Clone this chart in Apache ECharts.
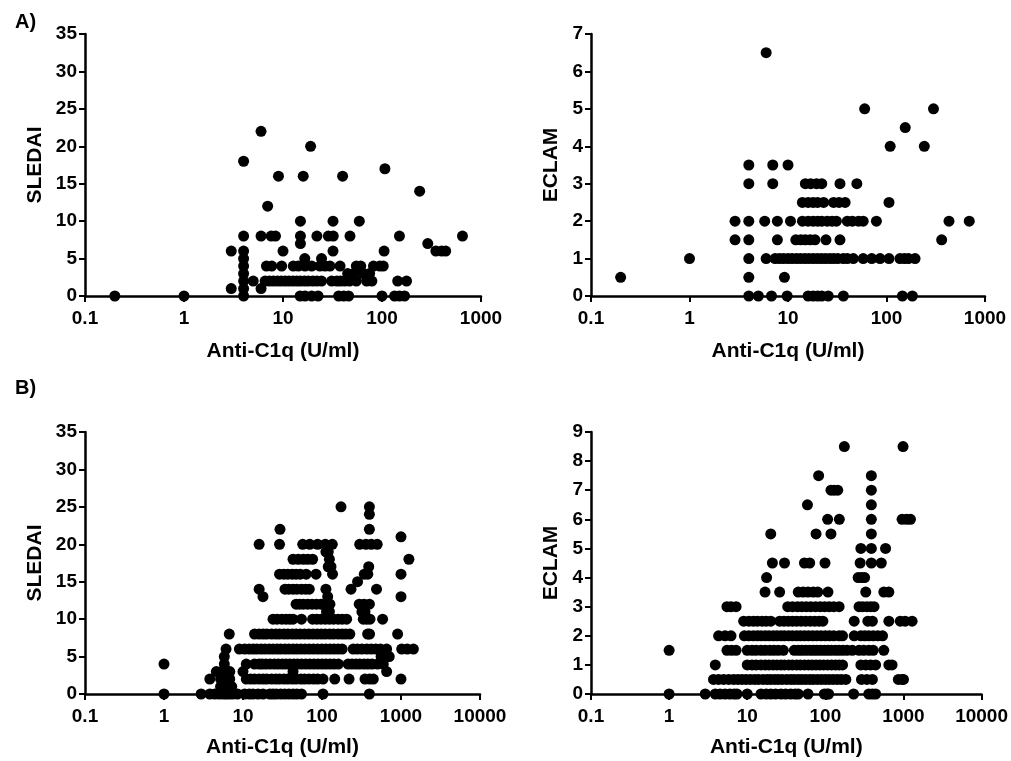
<!DOCTYPE html>
<html>
<head>
<meta charset="utf-8">
<script src="https://cdn.jsdelivr.net/npm/echarts@6/dist/echarts.min.js"></script>
<style>
  html, body { margin: 0; padding: 0; background: #fff; }
  #chart { width: 1011px; height: 761px; }
</style>
</head>
<body>
<div id="chart"></div>
<script>
// Each row: [score, [anti-C1q values (U/ml) of the patients with that score]]
const sledaiA = [
  [0,  [0.2, 1, 4, 14.9, 16.7, 19.5, 22.6, 36.5, 41, 46, 100, 134, 150, 169]],
  [1,  [3, 4, 6]],
  [2,  [4, 5, 6.6, 7.3, 8, 8.8, 9.6, 10.5, 11.5, 12.6, 13.8, 15, 16.5, 18, 20, 22, 24.5, 31, 35, 38, 42, 47, 55, 70, 79, 144, 177]],
  [3,  [4, 45, 52, 65, 75]],
  [4,  [4, 6.8, 7.7, 9.7, 12.7, 14.3, 16.7, 19.5, 23.6, 26.6, 29.8, 37.7, 55, 61, 82, 95, 103]],
  [5,  [4, 16.6, 24.5]],
  [6,  [3, 4, 10, 32, 105, 350, 400, 440]],
  [7,  [15, 290]],
  [8,  [4, 6, 7.6, 8.4, 15, 22, 28.7, 32.2, 47.5, 150, 650]],
  [10, [15, 32, 59]],
  [12, [7]],
  [14, [240]],
  [16, [9, 16, 40]],
  [17, [107]],
  [18, [4]],
  [20, [19]],
  [22, [6]]
];

const eclamA = [
  [0,   [4, 5, 6.8, 9.8, 16, 18, 20, 22, 25.6, 36.5, 145, 183]],
  [0.5, [0.2, 4, 9.2]],
  [1,   [1, 4, 6, 7.4, 8.2, 9, 10, 11, 12.2, 13.4, 14.8, 16.3, 18, 19.8, 21.8, 24, 26.5, 29, 32, 36.4, 40, 46, 58, 70.8, 86, 106, 137, 152, 167, 195]],
  [1.5, [2.9, 4, 7.8, 12, 13.5, 15, 16.8, 18.8, 24.3, 33.7, 363]],
  [2,   [2.9, 4, 5.8, 7.8, 10.6, 14, 16, 18, 20, 22, 25, 28, 31, 40, 45, 52, 58, 79, 431, 692]],
  [2.5, [14, 16, 18, 20, 23, 29, 33, 38, 106]],
  [3,   [4, 7, 15, 17, 19.5, 22, 33.7, 50]],
  [3.5, [4, 7, 10]],
  [4,   [109, 242]],
  [4.5, [155]],
  [5,   [60, 300]],
  [6.5, [6]]
];

const sledaiB = [
  [0,  [1, 2.95, 3.8, 4.4, 5, 5.6, 6.1, 6.7, 7.4, 8.5, 10.5, 12, 13.4, 15.5, 17.9, 21.8, 24, 26.4, 30, 33.7, 38, 43, 48, 55, 103, 398]],
  [1,  [5.2, 5.8, 6.4, 7.2]],
  [2,  [3.8, 5.2, 6, 6.8, 11, 12.5, 14, 16, 18, 20, 23, 26, 29, 33, 37, 42, 47, 54, 60, 68, 78, 88, 103, 145, 220, 350, 400, 446, 1000]],
  [3,  [4.6, 5.4, 6, 6.8, 10, 43, 658]],
  [4,  [1, 5.8, 11, 14, 16, 17.5, 19.5, 22, 25, 28, 31.5, 35, 39, 44, 49, 55, 62, 70, 79, 89, 100, 112, 126, 142, 161, 214, 240, 270, 300, 340, 380, 430, 506, 597]],
  [5,  [5.8, 560, 640, 710]],
  [6,  [6.1, 9, 10.5, 12, 13.5, 15, 17, 19, 21.5, 24, 27, 30, 34, 38, 43, 48, 54, 61, 69, 78, 88, 99, 112, 126, 142, 160, 180, 248, 280, 320, 370, 420, 480, 550, 658, 1020, 1200, 1435]],
  [8,  [6.7, 14, 16, 18, 20, 23, 26, 29, 33, 37, 42, 47, 53, 60, 68, 77, 87, 98, 110, 125, 140, 160, 180, 200, 225, 378, 400, 906]],
  [10, [24, 27, 31, 35, 39, 43, 55, 76, 86, 97, 110, 124, 140, 160, 180, 205, 333, 368, 405, 585]],
  [11, [114, 124, 320, 350]],
  [12, [47, 52, 58, 66, 75, 85, 97, 118, 126, 296, 340, 398]],
  [13, [17.9, 118, 1000]],
  [14, [16, 34, 38, 43, 48, 55, 62, 69, 112, 233, 490]],
  [15, [282]],
  [16, [29, 33, 37, 42, 47, 53, 63, 84, 136, 343, 380, 1000]],
  [17, [120, 130, 390]],
  [18, [43, 50, 58, 66, 76, 124, 1260]],
  [19, [112, 120]],
  [20, [16, 29, 57, 70, 88, 110, 135, 300, 360, 420, 500]],
  [21, [1000]],
  [22, [29.4, 398]],
  [24, [398]],
  [25, [174, 398]]
];

const eclamB = [
  [0,   [1, 2.9, 3.9, 4.5, 5.2, 6, 6.8, 7.4, 10, 15, 17.5, 20, 23, 27, 31, 36, 41, 45, 60, 97, 105, 110, 230, 360, 400, 440]],
  [0.5, [3.7, 4.3, 5, 5.8, 6.7, 7.6, 8.6, 9.7, 11, 12.5, 14, 16, 18, 20, 22.5, 25, 28, 32, 36, 40, 45, 50, 56, 63, 70, 79, 89, 100, 112, 126, 142, 160, 183, 290, 340, 400, 860, 960, 1000]],
  [1,   [3.9, 10, 11.5, 13, 15, 17, 19, 21.5, 24, 27, 30, 34, 38, 43, 48, 54, 61, 68, 76, 85, 95, 107, 120, 135, 150, 166, 285, 330, 380, 440, 650, 715]],
  [1.5, [1, 5.5, 6.3, 7.2, 10, 11.5, 13, 15, 17, 19.5, 22, 25, 29, 40, 45, 50, 56, 63, 70, 78, 87, 97, 108, 120, 135, 150, 168, 190, 221, 270, 310, 360, 410, 560]],
  [2,   [4.3, 5.2, 6.2, 9.2, 10.5, 12, 13.5, 15, 17, 19, 21.5, 24, 27, 30, 34, 38, 43, 48, 54, 61, 69, 78, 88, 100, 113, 128, 150, 166, 234, 285, 320, 360, 410, 470, 540]],
  [2.5, [9, 10.5, 12, 13.5, 15.5, 17.5, 20, 26, 29.5, 33.5, 38, 43, 49, 56, 64, 73, 83, 93, 234, 350, 400, 650, 910, 1050, 1290]],
  [3,   [5.5, 6.2, 7.2, 33, 38, 44, 50, 57, 65, 75, 86, 98, 112, 128, 150, 270, 300, 340, 380, 420]],
  [3.5, [16.9, 26, 45, 52, 60, 70, 80, 108, 329, 560, 650]],
  [4,   [17.7, 263, 290, 318]],
  [4.5, [21, 30, 54, 63, 99, 279, 388, 520]],
  [5,   [285, 388, 590]],
  [5.5, [20, 76, 118, 388]],
  [6,   [107, 151, 388, 960, 1100, 1230]],
  [6.5, [59, 388]],
  [7,   [118, 130, 144, 388]],
  [7.5, [82, 388]],
  [8.5, [175, 988]]
];

const xTickLabelsA = ['0.1', '1', '10', '100', '1000'];
const xTickLabelsB = ['0.1', '1', '10', '100', '1000', '10000'];
const xTitle = 'Anti-C1q (U/ml)';

const FONT = '"Liberation Sans", Arial, Helvetica, sans-serif';

function toPoints(rows) {
  const pts = [];
  rows.forEach(([score, xs]) => xs.forEach(x => pts.push([x, score])));
  return pts;
}

const panels = [
  { grid: { left: 85,  top: 34,  width: 396, height: 262 }, xMax: 1000,  ticks: xTickLabelsA, yMax: 35, yStep: 5, yName: 'SLEDAI', yGap: 39, xGap: 45, rows: sledaiA },
  { grid: { left: 591, top: 34,  width: 394, height: 262 }, xMax: 1000,  ticks: xTickLabelsA, yMax: 7,  yStep: 1, yName: 'ECLAM',  yGap: 29, xGap: 45, rows: eclamA },
  { grid: { left: 85,  top: 432, width: 395, height: 262 }, xMax: 10000, ticks: xTickLabelsB, yMax: 35, yStep: 5, yName: 'SLEDAI', yGap: 39, xGap: 43, rows: sledaiB },
  { grid: { left: 591, top: 432, width: 394, height: 262 }, xMax: 10000, ticks: xTickLabelsB, yMax: 9,  yStep: 1, yName: 'ECLAM',  yGap: 29, xGap: 43, rows: eclamB }
];

const axisLine = { show: true, onZero: false, lineStyle: { color: '#000', width: 2.5 } };
const axisTick = { show: true, length: 6, lineStyle: { color: '#000', width: 2 } };
const labelStyle = { color: '#000', fontFamily: FONT, fontWeight: 'bold', fontSize: 19 };
const nameStyle = { color: '#000', fontFamily: FONT, fontWeight: 'bold', fontSize: 21 };

const option = {
  animation: false,
  backgroundColor: '#fff',
  title: [
    { text: 'A)', left: 10, top: 7,   textStyle: { color: '#000', fontFamily: FONT, fontWeight: 'bold', fontSize: 20 } },
    { text: 'B)', left: 10, top: 373, textStyle: { color: '#000', fontFamily: FONT, fontWeight: 'bold', fontSize: 20 } }
  ],
  grid: panels.map(p => p.grid),
  xAxis: panels.map((p, i) => ({
    type: 'log',
    logBase: 10,
    gridIndex: i,
    min: 0.1,
    max: p.xMax,
    axisLine: axisLine,
    axisTick: axisTick,
    minorTick: { show: false },
    splitLine: { show: false },
    axisLabel: Object.assign({}, labelStyle, {
      margin: 13,
      formatter: v => p.ticks[Math.round(Math.log10(v)) + 1]
    }),
    name: xTitle,
    nameLocation: 'middle',
    nameGap: p.xGap,
    nameTextStyle: nameStyle
  })),
  yAxis: panels.map((p, i) => ({
    type: 'value',
    gridIndex: i,
    min: 0,
    max: p.yMax,
    interval: p.yStep,
    axisLine: axisLine,
    axisTick: axisTick,
    splitLine: { show: false },
    axisLabel: Object.assign({}, labelStyle, { margin: 8 }),
    name: p.yName,
    nameLocation: 'middle',
    nameRotate: 90,
    nameGap: p.yGap,
    nameTextStyle: nameStyle
  })),
  series: panels.map((p, i) => ({
    type: 'scatter',
    xAxisIndex: i,
    yAxisIndex: i,
    symbol: 'circle',
    symbolSize: 11,
    clip: false,
    itemStyle: { color: '#000', opacity: 1 },
    data: toPoints(p.rows)
  }))
};

const chart = echarts.init(document.getElementById('chart'), null, { renderer: 'canvas' });
chart.setOption(option);
</script>
</body>
</html>
